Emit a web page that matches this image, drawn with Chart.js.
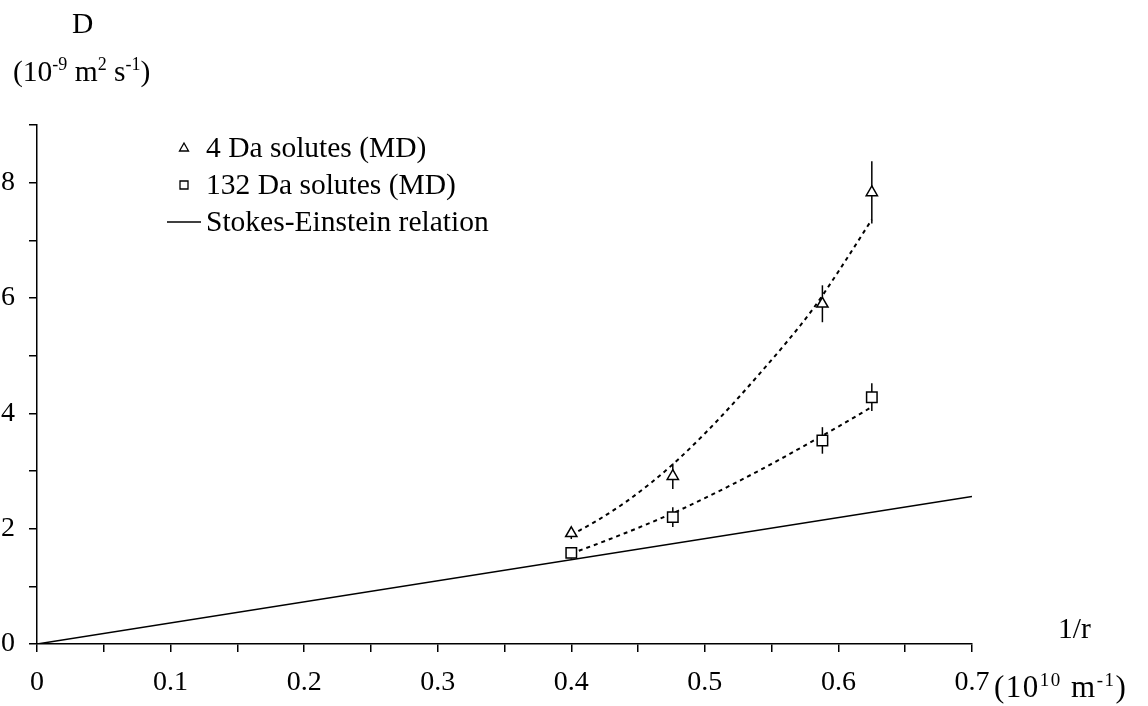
<!DOCTYPE html>
<html>
<head>
<meta charset="utf-8">
<script src="https://cdn.jsdelivr.net/npm/chart.js@4"></script>
<style>
body { margin: 0; background: #fff; }
#wrap { position: relative; width: 1148px; height: 706px; font-family: "Liberation Serif", "Times New Roman", serif; color: #000; }
#chart { position: absolute; left: 0; top: 0; }
.lbl { position: absolute; font-size: 29.5px; line-height: 28px; white-space: nowrap; }
.lbl sup { font-size: 18px; vertical-align: 11px; line-height: 0; }
</style>
</head>
<body>
<div id="wrap">
  <canvas id="chart" width="1148" height="706"></canvas>
  <div class="lbl" style="left:72px; top:9px;">D</div>
  <div class="lbl" style="left:13px; top:57px;">(10<sup>-9</sup> m<sup>2</sup> s<sup>-1</sup>)</div>
  <div class="lbl" style="left:1058px; top:614px;">1/r</div>
  <div class="lbl" style="left:994px; top:673px; font-size:31px; letter-spacing:1.5px;">(10<sup style="font-size:19px">10</sup> m<sup style="font-size:19px">-1</sup>)</div>
</div>
<script>
// 1/r values of the solutes (10^10 m^-1)
const invRadius = [0.4, 0.476, 0.588, 0.625];

// MD diffusion coefficients (10^-9 m^2 s^-1) and error bars
const d4Da = [1.92, 2.91, 5.90, 7.83];
const d4DaErr = [0.1, 0.22, 0.32, 0.54];
const d132Da = [1.58, 2.20, 3.53, 4.28];
const d132DaErr = [0.1, 0.17, 0.23, 0.24];

// dotted fit curves
const fitX = [0.4, 0.42, 0.44, 0.46, 0.48, 0.5, 0.52, 0.54, 0.56, 0.58, 0.6, 0.625];
const fit4Da = [1.89, 2.15, 2.45, 2.80, 3.20, 3.65, 4.14, 4.66, 5.20, 5.78, 6.46, 7.36];
const fit132Da = [1.57, 1.74, 1.92, 2.11, 2.31, 2.53, 2.76, 3.00, 3.25, 3.51, 3.77, 4.11];

// Stokes-Einstein line
const seX = [0, 0.7];
const seD = [0, 2.56];

const FONT = "Liberation Serif";

function toPoints(xs, ys) {
    return xs.map((x, i) => ({ x: x, y: ys[i] }));
}

const errorBars = {
    id: "errorBars",
    beforeDatasetsDraw(chart) {
        const ctx = chart.ctx;
        const xs = chart.scales.x, ys = chart.scales.y;
        ctx.save();
        ctx.strokeStyle = "#000";
        ctx.lineWidth = 1.5;
        [[d4Da, d4DaErr], [d132Da, d132DaErr]].forEach(([vals, errs]) => {
            vals.forEach((v, i) => {
                const px = xs.getPixelForValue(invRadius[i]);
                ctx.beginPath();
                ctx.moveTo(px, ys.getPixelForValue(v - errs[i]));
                ctx.lineTo(px, ys.getPixelForValue(v + errs[i]));
                ctx.stroke();
            });
        });
        ctx.restore();
    }
};

const sideLegend = {
    id: "sideLegend",
    afterDraw(chart) {
        const ctx = chart.ctx;
        const items = chart.data.datasets.filter(d => d.inLegend);
        ctx.save();
        ctx.fillStyle = "#000";
        ctx.strokeStyle = "#000";
        ctx.font = "29.5px '" + FONT + "'";
        ctx.textBaseline = "middle";
        items.forEach((d, i) => {
            const y = 148 + i * 37;
            const mx = 184;
            ctx.lineWidth = 1.3;
            ctx.beginPath();
            if (d.pointStyle === "triangle") {
                ctx.moveTo(mx, y - 5);
                ctx.lineTo(mx - 4.5, y + 3);
                ctx.lineTo(mx + 4.5, y + 3);
                ctx.closePath();
                ctx.stroke();
            } else if (d.pointStyle === "rect") {
                ctx.rect(mx - 4, y - 4, 8, 8);
                ctx.stroke();
            } else {
                ctx.lineWidth = 1.5;
                ctx.moveTo(167, y);
                ctx.lineTo(201, y);
                ctx.stroke();
            }
            ctx.fillText(d.label, 206, y + 1);
        });
        ctx.restore();
    }
};

const axisStyle = {
    border: { display: true, color: "#000", width: 1.5 },
    grid: { drawOnChartArea: false, drawTicks: true, tickLength: 8, color: "#000", lineWidth: 1.5 }
};

new Chart(document.getElementById("chart"), {
    type: "scatter",
    data: {
        datasets: [{
            label: "4 Da solutes (MD)",
            inLegend: true,
            data: toPoints(invRadius, d4Da),
            pointStyle: "triangle",
            pointRadius: 6.5,
            pointBorderWidth: 1.5,
            pointBorderColor: "#000",
            pointBackgroundColor: "#fff"
        }, {
            label: "132 Da solutes (MD)",
            inLegend: true,
            data: toPoints(invRadius, d132Da),
            pointStyle: "rect",
            pointRadius: 7.4,
            pointBorderWidth: 1.5,
            pointBorderColor: "#000",
            pointBackgroundColor: "#fff"
        }, {
            label: "Stokes-Einstein relation",
            inLegend: true,
            pointStyle: "line",
            data: toPoints(seX, seD),
            showLine: true,
            pointRadius: 0,
            borderColor: "#000",
            borderWidth: 1.5
        }, {
            label: "4 Da fit",
            data: toPoints(fitX, fit4Da),
            showLine: true,
            pointRadius: 0,
            borderColor: "#000",
            borderWidth: 2,
            borderDash: [4, 4],
            cubicInterpolationMode: "monotone"
        }, {
            label: "132 Da fit",
            data: toPoints(fitX, fit132Da),
            showLine: true,
            pointRadius: 0,
            borderColor: "#000",
            borderWidth: 2,
            borderDash: [4, 4],
            cubicInterpolationMode: "monotone"
        }]
    },
    options: {
        responsive: false,
        animation: false,
        layout: { padding: { top: 125, right: 176, left: 0, bottom: 0 } },
        plugins: { legend: { display: false }, tooltip: { enabled: false } },
        scales: {
            x: {
                type: "linear",
                min: 0,
                max: 0.7,
                afterFit(s) { s.height = 62; },
                ...axisStyle,
                ticks: {
                    stepSize: 0.05,
                    autoSkip: false,
                    maxRotation: 0,
                    padding: 14,
                    color: "#000",
                    font: { family: FONT, size: 28 },
                    callback(v) {
                        const k = Math.round(v * 20);
                        if (k % 2 !== 0) return "";
                        return k === 0 ? "0" : (k / 20).toFixed(1);
                    }
                }
            },
            y: {
                min: 0,
                max: 9,
                afterFit(s) { s.width = 37; },
                ...axisStyle,
                ticks: {
                    stepSize: 1,
                    autoSkip: false,
                    padding: 14,
                    color: "#000",
                    font: { family: FONT, size: 28 },
                    callback(v) { return v % 2 === 0 ? String(v) : ""; }
                }
            }
        }
    },
    plugins: [errorBars, sideLegend]
});
</script>
</body>
</html>
